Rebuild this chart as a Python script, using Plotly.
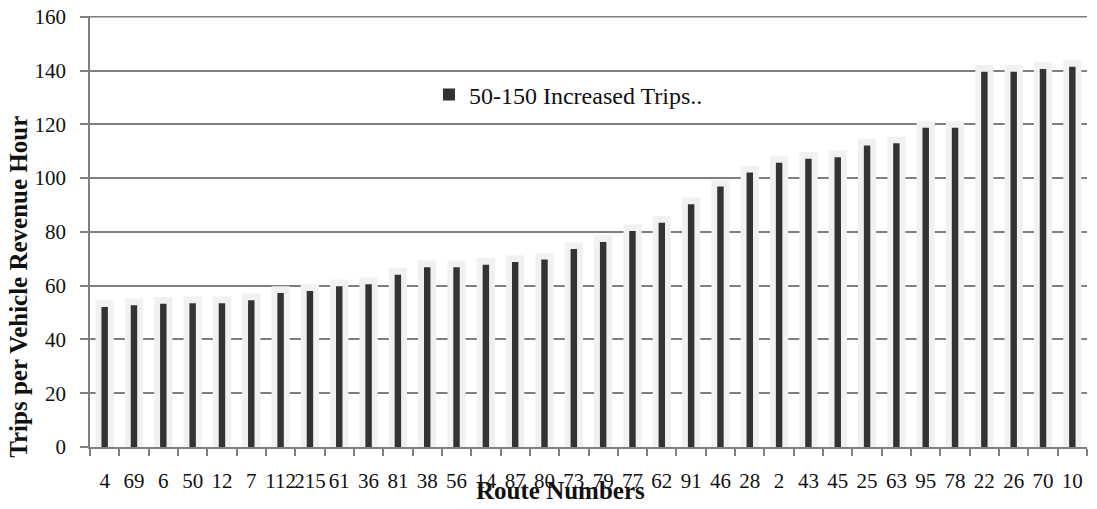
import plotly.graph_objects as go

routes = ["4", "69", "6", "50", "12", "7", "112", "215", "61", "36", "81", "38",
          "56", "14", "87", "80", "73", "79", "77", "62", "91", "46", "28", "2",
          "43", "45", "25", "63", "95", "78", "22", "26", "70", "10"]
trips = [52.1, 52.7, 53.3, 53.5, 53.5, 54.6, 57.3, 58.0, 59.8, 60.5, 64.1, 66.9,
         66.9, 67.8, 68.8, 69.7, 73.6, 76.2, 80.3, 83.4, 90.3, 96.9, 102.1, 105.7,
         107.2, 107.8, 112.1, 113.0, 118.7, 118.7, 139.6, 139.6, 140.6, 141.4]
y_ticks = [0, 20, 40, 60, 80, 100, 120, 140, 160]
series_name = "50-150 Increased Trips.."

FONT = "Liberation Serif"
halo = [v + 2.5 for v in trips]

fig = go.Figure()
fig.add_trace(go.Bar(x=routes, y=halo, width=0.62, marker=dict(color="#f1f1f1", line=dict(width=0)),
                     showlegend=False, hoverinfo="skip"))
fig.add_trace(go.Bar(x=routes, y=trips, width=0.22, name=series_name,
                     marker=dict(color="#333333", line=dict(width=0))))

fig.update_layout(
    width=1097, height=509,
    margin=dict(l=90, r=10, t=16, b=62),
    barmode="overlay",
    plot_bgcolor="white", paper_bgcolor="white",
    font=dict(family=FONT, size=21, color="#111111"),
    showlegend=True,
    legend=dict(x=0.34, y=0.817, xanchor="left", yanchor="middle", itemwidth=30,
                bgcolor="rgba(0,0,0,0)", font=dict(family=FONT, size=24)),
    xaxis=dict(type="category", tickson="boundaries", ticks="outside", ticklen=7,
               tickcolor="#7f7f7f", tickwidth=1.5, showline=True, linecolor="#7f7f7f",
               linewidth=1.5, showgrid=False, ticklabelstandoff=14, tickangle=0,
               automargin=False,
               range=[-0.5, len(routes) - 0.5],
               tickfont=dict(family=FONT, size=21)),
    yaxis=dict(range=[0, 160.3], tickvals=y_ticks, ticks="outside", ticklen=8,
               tickcolor="#7f7f7f", tickwidth=1.5, showline=True, linecolor="#7f7f7f",
               linewidth=1.5, showgrid=True, gridcolor="#7f7f7f", gridwidth=1.5,
               zeroline=False, ticklabelstandoff=10, automargin=False,
               ticklabeloverflow="allow",
               tickfont=dict(family=FONT, size=21)),
    shapes=[dict(type="line", xref="paper", yref="y", x0=0, x1=1,
                 y0=y_ticks[-1], y1=y_ticks[-1], layer="below",
                 line=dict(color="#7f7f7f", width=1.5))],
    annotations=[
        dict(text="<b>Route Numbers</b>", xref="paper", yref="paper", x=0.472, y=-0.10,
             xanchor="center", yanchor="middle", showarrow=False,
             font=dict(family=FONT, size=25)),
        dict(text="<b>Trips per Vehicle Revenue Hour</b>", xref="paper", yref="paper",
             x=-0.0725, y=0.371, xanchor="center", yanchor="middle", textangle=-90,
             showarrow=False, font=dict(family=FONT, size=25)),
    ],
)

# remove the browser's default 8px body margin so the figure fills the window
fig.write_html("out.html", config={"displayModeBar": False},
               post_script="document.body.style.margin='0';")
